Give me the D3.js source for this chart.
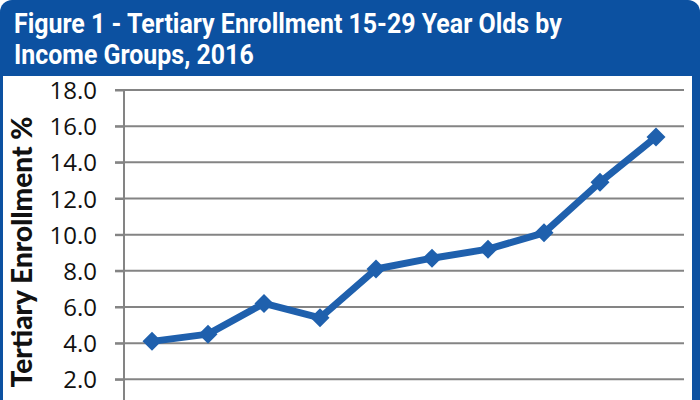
<!DOCTYPE html>
<html>
<head>
<meta charset="utf-8">
<script src="https://cdn.jsdelivr.net/npm/d3@7"></script>
<style>
  html, body { margin: 0; padding: 0; background: #ffffff; }
  svg { display: block; }
</style>
</head>
<body>
<svg id="chart" width="700" height="400"></svg>
<script>
// ---- data ----
const titleLines = ["Figure 1 - Tertiary Enrollment 15-29 Year Olds by", "Income Groups, 2016"];
const yAxisTitle = "Tertiary Enrollment %";
const categories = ["1", "2", "3", "4", "5", "6", "7", "8", "9", "10"];
const enrollment = [4.1, 4.5, 6.2, 5.4, 8.1, 8.7, 9.2, 10.1, 12.9, 15.4];
const yTicks = [2, 4, 6, 8, 10, 12, 14, 16, 18];

const svg = d3.select("#chart");
const W = 700, H = 400;
const frameBlue = "#0c51a1";
const lineBlue = "#1f60ad";

// frame
svg.append("rect").attr("x", 0).attr("y", 0).attr("width", W).attr("height", H + 30)
  .attr("rx", 12).attr("fill", frameBlue);
svg.append("rect").attr("x", 3).attr("y", 76).attr("width", 689).attr("height", H)
  .attr("fill", "#ffffff");

// title
const titleG = svg.append("g").attr("transform", "translate(14,0)");
const tl = titleG.selectAll("text").data(titleLines).join("text")
  .attr("x", 0)
  .attr("y", (d, i) => 33 + i * 31)
  .attr("fill", "#ffffff")
  .attr("font-family", "'Liberation Sans Narrow', 'Roboto', 'DejaVu Sans Condensed', sans-serif")
  .attr("font-weight", "bold")
  .attr("font-size", 28)
  .text(d => d);
const len1 = tl.nodes()[0].getComputedTextLength();
const sx = 548 / len1;
tl.attr("transform", `scale(${sx},1)`);

// scales
const x = d3.scaleBand().domain(categories).range([124, 684]);
const y = d3.scaleLinear().domain([0, 18]).range([415.5, 90]);

// gridlines
svg.append("g").selectAll("line").data(yTicks).join("line")
  .attr("x1", 115).attr("x2", 684)
  .attr("y1", d => y(d)).attr("y2", d => y(d))
  .attr("stroke", "#848484").attr("stroke-width", 2);

// y axis
const yAxis = d3.axisLeft(y).tickValues(yTicks).tickFormat(d3.format(".1f"))
  .tickSize(9).tickPadding(18);
const ya = svg.append("g").attr("transform", "translate(124,0)").call(yAxis);
ya.select(".domain").remove();
ya.selectAll(".tick line").attr("stroke", "#848484").attr("stroke-width", 2);
ya.selectAll(".tick text")
  .attr("font-family", "'Open Sans', 'Lato', sans-serif")
  .attr("font-size", 24)
  .attr("fill", "#111111")
  .attr("dy", "0.36em");
svg.append("line")
  .attr("x1", 124).attr("x2", 124)
  .attr("y1", y(18)).attr("y2", H + 5)
  .attr("stroke", "#848484").attr("stroke-width", 2);

// axis title
const at = svg.append("text")
  .attr("transform", `translate(32,252) rotate(-90)`)
  .attr("text-anchor", "middle")
  .attr("font-family", "'Lato', 'Open Sans', sans-serif")
  .attr("font-weight", 900)
  .attr("font-size", 26)
  .attr("fill", "#111111")
  .text(yAxisTitle);
const atLen = at.node().getComputedTextLength();
at.attr("font-size", 26 * 271 / atLen);

// line
const cx = d => x(d) + x.bandwidth() / 2;
const line = d3.line().x((d, i) => cx(categories[i])).y(d => y(d));
svg.append("path").datum(enrollment)
  .attr("d", line)
  .attr("fill", "none")
  .attr("stroke", lineBlue)
  .attr("stroke-width", 7)
  .attr("stroke-linejoin", "round");

// markers
svg.append("g").selectAll("path").data(enrollment).join("path")
  .attr("transform", (d, i) => `translate(${cx(categories[i])},${y(d)})`)
  .attr("d", "M0,-9.5L9.5,0L0,9.5L-9.5,0Z")
  .attr("fill", lineBlue);
</script>
</body>
</html>
